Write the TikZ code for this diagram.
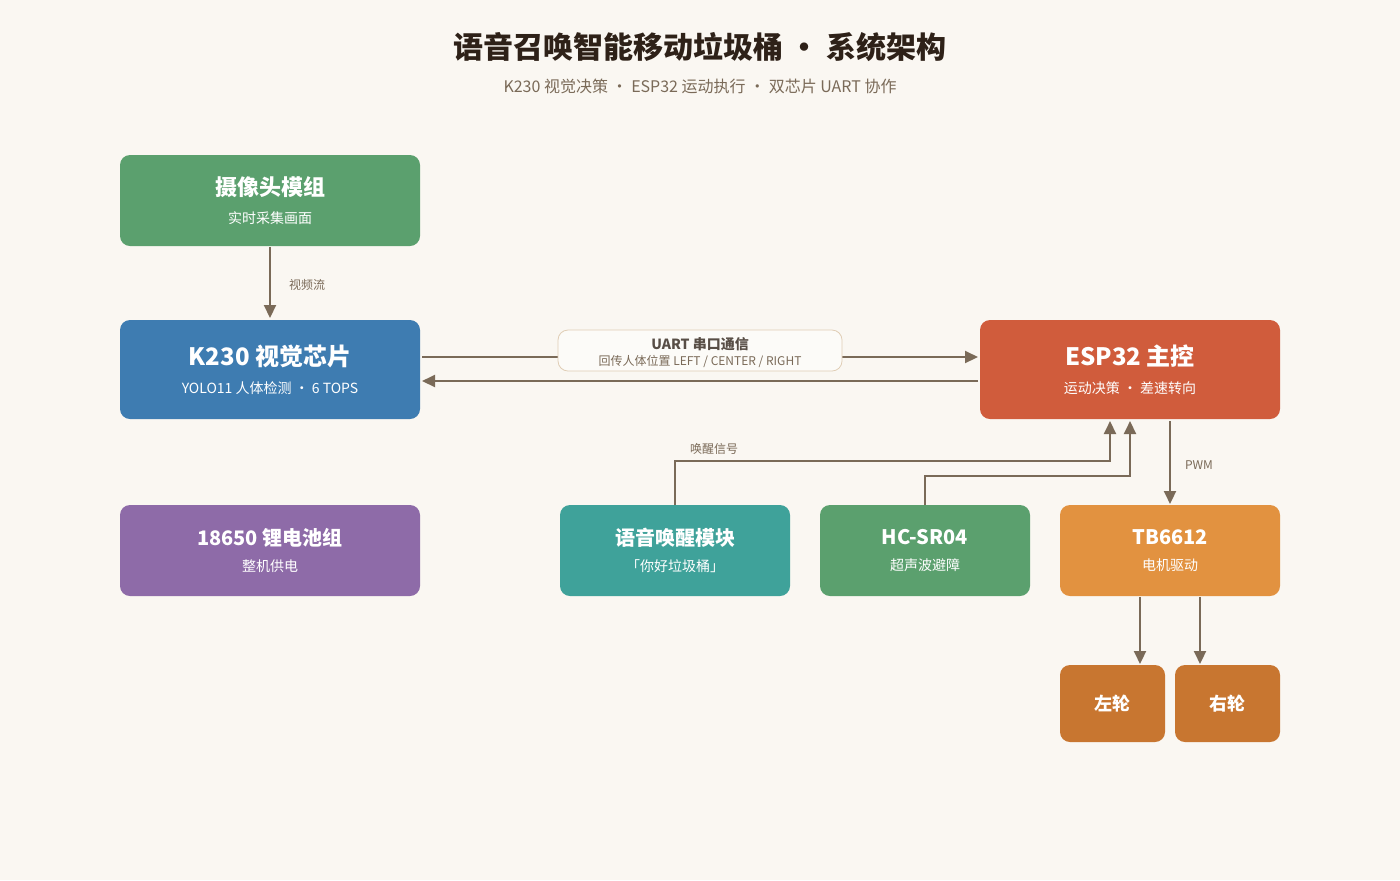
\documentclass[tikz,border=0pt]{standalone}
\usepackage{fontspec}
\setmainfont{Noto Sans CJK SC}
\usetikzlibrary{arrows.meta}
\definecolor{bg}{HTML}{FAF7F2}
\definecolor{cgreen}{HTML}{5BA06E}
\definecolor{cblue}{HTML}{3E7CB1}
\definecolor{cred}{HTML}{D05C3C}
\definecolor{cpurple}{HTML}{8E6BA8}
\definecolor{cteal}{HTML}{3FA29A}
\definecolor{corange}{HTML}{E29240}
\definecolor{cdorange}{HTML}{C87630}
\definecolor{arr}{HTML}{7A6A58}
\definecolor{titlec}{HTML}{2E2118}
\definecolor{subc}{HTML}{7A6A58}
\definecolor{lblb}{HTML}{E0CDB5}
\begin{document}
\begin{tikzpicture}[x=0.5pt,y=-0.5pt,
  box/.style={rounded corners=5pt,text=white,align=center},
  conn/.style={draw=arr,line width=1pt,-{Triangle[length=6.5pt,width=6pt]}},
  lbl/.style={text=subc,font=\fontsize{6}{7}\selectfont}]
\fill[bg] (0,0) rectangle (1400,880);
\useasboundingbox (0,0) rectangle (1400,880);
\node[text=titlec,font=\fontsize{15}{18}\selectfont\bfseries] (title) at (700,47) {语音召唤智能移动垃圾桶 · 系统架构};
\node[text=subc,font=\fontsize{8}{10}\selectfont] (sub) at (700,86) {K230 视觉决策 · ESP32 运动执行 · 双芯片 UART 协作};
\newcommand{\mybox}[7]{%
 \fill[#6,rounded corners=5pt] (#2,#3) rectangle (#4,#5);
 \node[box] (#1) at ({(#2+#4)/2},{(#3+#5)/2}) {#7};}
\mybox{cam}{120}{155}{420}{246}{cgreen}{{\fontsize{11}{13}\selectfont\bfseries 摄像头模组}\\[2pt]{\fontsize{7}{9}\selectfont 实时采集画面}}
\mybox{k230}{120}{320}{420}{419}{cblue}{{\fontsize{12}{14}\selectfont\bfseries K230 视觉芯片}\\[2pt]{\fontsize{7}{9}\selectfont YOLO11 人体检测 · 6 TOPS}}
\mybox{esp}{980}{320}{1280}{419}{cred}{{\fontsize{12}{14}\selectfont\bfseries ESP32 主控}\\[2pt]{\fontsize{7}{9}\selectfont 运动决策 · 差速转向}}
\mybox{bat}{120}{505}{420}{596}{cpurple}{{\fontsize{10}{12}\selectfont\bfseries 18650 锂电池组}\\[1pt]{\fontsize{7}{9}\selectfont 整机供电}}
\mybox{voice}{560}{505}{790}{596}{cteal}{{\fontsize{10}{12}\selectfont\bfseries 语音唤醒模块}\\[1pt]{\fontsize{7}{9}\selectfont 「你好垃圾桶」}}
\mybox{hc}{820}{505}{1030}{596}{cgreen}{{\fontsize{10}{12}\selectfont\bfseries HC-SR04}\\[1pt]{\fontsize{7}{9}\selectfont 超声波避障}}
\mybox{tb}{1060}{505}{1280}{596}{corange}{{\fontsize{10}{12}\selectfont\bfseries TB6612}\\[1pt]{\fontsize{7}{9}\selectfont 电机驱动}}
\mybox{lw}{1060}{665}{1165}{742}{cdorange}{{\fontsize{9}{11}\selectfont\bfseries 左轮}}
\mybox{rw}{1175}{665}{1280}{742}{cdorange}{{\fontsize{9}{11}\selectfont\bfseries 右轮}}
% camera -> k230
\draw[conn] (cam.south |- 0,247) -- (270,318);
\node[lbl,anchor=west] (vs) at (282,285) {视频流};
% uart
\draw[conn] (422,357) -- (978,357);
\filldraw[fill=bg!50!white,draw=lblb,rounded corners=5pt] (558,330) rectangle (842,371);
\node[text=titlec!80,font=\fontsize{7}{8}\selectfont\bfseries] (u1) at (700,344) {UART 串口通信};
\node[lbl] (u2) at (700,361) {回传人体位置 LEFT / CENTER / RIGHT};
\draw[conn] (978,381) -- (422,381);
% voice
\draw[conn] (675,505) -- (675,461) -- (1110,461) -- (1110,421);
\node[lbl] (wk) at (714,449) {唤醒信号};
\draw[conn] (925,505) -- (925,476) -- (1130,476) -- (1130,421);
\draw[conn] (1170,421) -- (1170,504);
\node[lbl,anchor=west] (pwm) at (1178,465) {PWM};
\draw[conn] (1140,597) -- (1140,664);
\draw[conn] (1200,597) -- (1200,664);
\end{tikzpicture}
\end{document}
